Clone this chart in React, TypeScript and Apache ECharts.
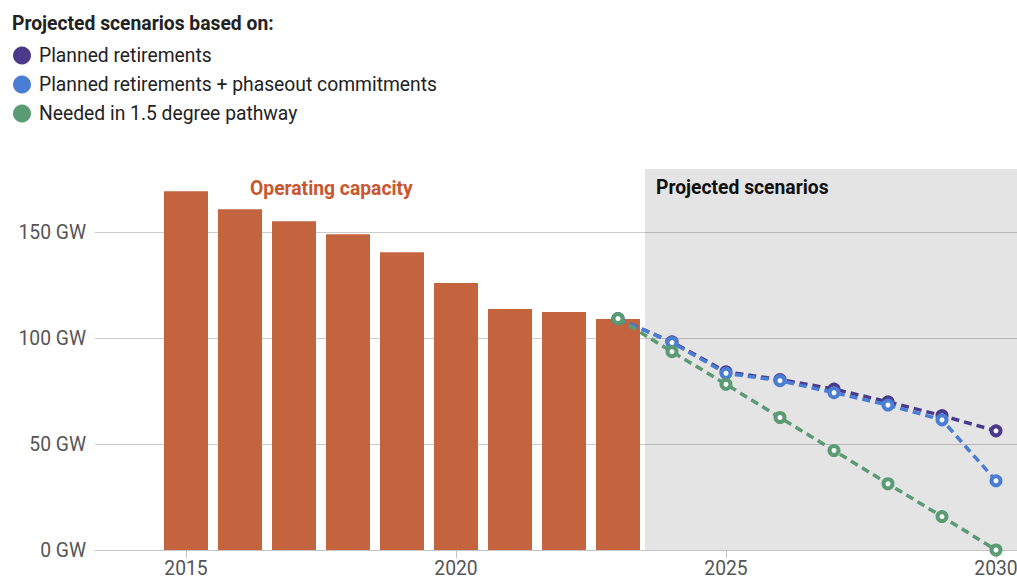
import React, { useEffect, useRef } from "react";
import * as echarts from "echarts";

const barYears = [2015, 2016, 2017, 2018, 2019, 2020, 2021, 2022, 2023];
const operatingCapacity = [169.5, 161.0, 155.3, 149.2, 140.7, 126.1, 113.8, 112.4, 109.1];

const projectionYears = [2023, 2024, 2025, 2026, 2027, 2028, 2029, 2030];
const plannedRetirements = [109.3, 98.3, 84.2, 80.5, 76.0, 70.0, 63.5, 56.3];
const plannedPlusPhaseout = [109.3, 98.0, 83.5, 80.0, 74.3, 68.5, 61.5, 32.7];
const pathway15 = [109.3, 93.7, 78.3, 62.6, 47.0, 31.3, 15.8, 0];

const seriesNames = [
  "Planned retirements",
  "Planned retirements + phaseout commitments",
  "Needed in 1.5 degree pathway",
];
const seriesColors = ["#4a3a8c", "#4a7ed5", "#5a9b74"];
const barColor = "#c4643f";

const xTickYears = [2015, 2020, 2025, 2030];
const yTickValues = [0, 50, 100, 150];

const X_MIN = 2013.315;
const X_MAX = 2030.389;
const Y_MAX = 180;
const PROJECTION_START = 2023.5;

const FONT = "Roboto, 'Noto Sans', sans-serif";
const FS = 19.3;

export default function App() {
  const ref = useRef<HTMLDivElement>(null);

  useEffect(() => {
    if (!ref.current) return;
    document.documentElement.style.overflow = "hidden";
    document.body.style.overflow = "hidden";
    document.body.style.margin = "0";
    const chart = echarts.init(ref.current, undefined, { renderer: "svg", width: 1017, height: 584 });
    const lineData = [plannedRetirements, plannedPlusPhaseout, pathway15];

    chart.setOption({
      animation: false,
      textStyle: { fontFamily: FONT },
      legend: {
        orient: "vertical",
        left: 8,
        top: 41,
        icon: "circle",
        itemWidth: 18,
        itemHeight: 18,
        itemGap: 10,
        selectedMode: false,
        data: seriesNames.map((n, k) => ({
          name: n,
          itemStyle: { color: seriesColors[k], borderWidth: 0 },
        })),
        textStyle: { fontSize: FS, color: "#222", fontFamily: FONT, padding: [0, 0, 0, 3] },
      },
      grid: {
        left: 95,
        right: 0,
        top: 169,
        bottom: 34,
        containLabel: false,
        outerBoundsMode: "none",
      },
      xAxis: {
        type: "value",
        min: X_MIN,
        max: X_MAX,
        splitLine: { show: false },
        axisLine: { show: true, lineStyle: { color: "#c4c4c4", width: 1 } },
        axisTick: {
          show: true,
          length: 8,
          lineStyle: { color: "#c4c4c4" },
          customValues: xTickYears,
        },
        axisLabel: {
          customValues: xTickYears,
          color: "#555",
          fontSize: FS,
          fontFamily: FONT,
          margin: 9,
          hideOverlap: false,
          formatter: (v: number) => String(Math.round(v)),
        },
      },
      yAxis: {
        type: "value",
        min: 0,
        max: Y_MAX,
        interval: 50,
        axisLine: { show: false },
        axisTick: { show: false },
        splitLine: { show: true, showMaxLine: false, lineStyle: { color: "#cccccc", width: 1 } },
        axisLabel: {
          showMaxLabel: false,
          color: "#555",
          fontSize: FS,
          fontFamily: FONT,
          margin: 9,
          formatter: (v: number) => (yTickValues.includes(v) ? `${v} GW` : ""),
        },
      },
      graphic: [
        {
          type: "text",
          left: 12,
          top: 14,
          style: {
            text: "Projected scenarios based on:",
            fontFamily: FONT,
            fontSize: FS,
            fontWeight: "bold",
            fill: "#222",
          },
        },
        {
          type: "text",
          left: 250,
          top: 179,
          z: 10,
          style: {
            text: "Operating capacity",
            fontFamily: FONT,
            fontSize: FS,
            fontWeight: "bold",
            fill: "#c9562f",
          },
        },
        {
          type: "text",
          left: 656,
          top: 178,
          z: 10,
          style: {
            text: "Projected scenarios",
            fontFamily: FONT,
            fontSize: FS,
            fontWeight: "bold",
            fill: "#111",
          },
        },
      ],
      series: [
        {
          type: "bar",
          name: "Operating capacity",
          barWidth: 44,
          itemStyle: { color: barColor },
          data: barYears.map((y, i) => [y, operatingCapacity[i]]),
          markArea: {
            silent: true,
            itemStyle: { color: "rgba(0,0,0,0.105)" },
            data: [[{ xAxis: PROJECTION_START, yAxis: 0 }, { xAxis: X_MAX, yAxis: Y_MAX }]],
          },
          z: 1,
        },
        ...lineData.map((vals, k) => ({
          type: "line",
          name: seriesNames[k],
          data: projectionYears.map((y, i) => [y, vals[i]]),
          symbol: "circle",
          symbolSize: 9,
          showAllSymbol: true,
          clip: false,
          z: 3 + k,
          itemStyle: { color: "#fff", borderColor: seriesColors[k], borderWidth: 4 },
          lineStyle: { color: seriesColors[k], width: 3.5, type: [8, 5] },
        })),
      ],
    });

    return () => chart.dispose();
  }, []);

  return (
    <div
      ref={ref}
      style={{ position: "fixed", left: 0, top: 0, width: 1017, height: 584, background: "#fff" }}
    />
  );
}
